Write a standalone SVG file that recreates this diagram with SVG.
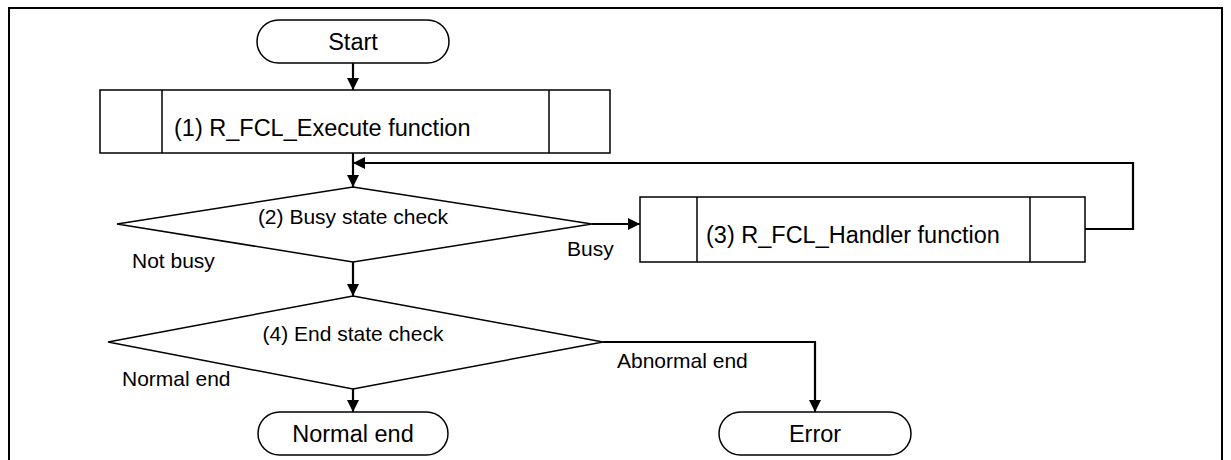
<svg xmlns="http://www.w3.org/2000/svg" width="1231" height="460" viewBox="0 0 1231 460">
  <style>
    .shape { fill: #ffffff; stroke: #000000; stroke-width: 1.5; }
    .div { stroke: #000000; stroke-width: 1.5; }
    .wire { fill: none; stroke: #000000; stroke-width: 2.2; }
    .t { font-family: "Liberation Sans", Arial, sans-serif; font-size: 23.5px; fill: #000000; }
    .lbl { font-family: "Liberation Sans", Arial, sans-serif; font-size: 21px; fill: #000000; }
    .mid { text-anchor: middle; }
  </style>
  <defs>
    <marker id="arrow" viewBox="0 0 12 12" refX="12" refY="6" markerWidth="12" markerHeight="12" markerUnits="userSpaceOnUse" orient="auto">
      <path d="M0,0 L12,6 L0,12 Z" fill="#000000"/>
    </marker>
  </defs>

  <rect fill="#ffffff" x="0" y="0" width="1231" height="460"/>
  <!-- outer frame -->
  <rect x="9" y="8" width="1213" height="480" fill="none" stroke="#000000" stroke-width="2"/>

  <!-- connectors -->
  <g id="connectors">
    <path class="wire" d="M353,63 V90" marker-end="url(#arrow)"/>
    <path class="wire" d="M353,153 V187" marker-end="url(#arrow)"/>
    <path class="wire" d="M1085,229 H1133 V163 H353" marker-end="url(#arrow)"/>
    <path class="wire" d="M592,224 H640" marker-end="url(#arrow)"/>
    <path class="wire" d="M353,262 V296" marker-end="url(#arrow)"/>
    <path class="wire" d="M353,389 V412" marker-end="url(#arrow)"/>
    <path class="wire" d="M603,342 H815 V412" marker-end="url(#arrow)"/>
  </g>

  <g id="start">
    <rect class="shape" x="257" y="20" width="192" height="43" rx="21.5"/>
    <text class="t mid" x="353" y="50">Start</text>
  </g>

  <g id="execute">
    <rect class="shape" x="100" y="90" width="510" height="63"/>
    <line class="div" x1="162" y1="90" x2="162" y2="153"/>
    <line class="div" x1="549" y1="90" x2="549" y2="153"/>
    <text class="t" x="174" y="136">(1) R_FCL_Execute function</text>
  </g>

  <g id="busy-check">
    <polygon class="shape" points="353,187 592,224 353,262 117,224"/>
    <text class="lbl mid" x="353" y="224">(2) Busy state check</text>
    <text class="lbl" x="567" y="256">Busy</text>
    <text class="lbl" x="132" y="268">Not busy</text>
  </g>

  <g id="handler">
    <rect class="shape" x="640" y="197" width="445" height="65"/>
    <line class="div" x1="697" y1="197" x2="697" y2="262"/>
    <line class="div" x1="1030" y1="197" x2="1030" y2="262"/>
    <text class="t" x="706" y="243">(3) R_FCL_Handler function</text>
  </g>

  <g id="end-check">
    <polygon class="shape" points="353,296 603,342 353,389 108,342"/>
    <text class="lbl mid" x="353" y="341">(4) End state check</text>
    <text class="lbl" x="122" y="386">Normal end</text>
    <text class="lbl" x="617" y="368">Abnormal end</text>
  </g>

  <g id="normal-end">
    <rect class="shape" x="258" y="412" width="190" height="43" rx="21.5"/>
    <text class="t mid" x="353" y="442">Normal end</text>
  </g>

  <g id="error">
    <rect class="shape" x="719" y="412" width="192" height="43" rx="21.5"/>
    <text class="t mid" x="815" y="442">Error</text>
  </g>
</svg>
